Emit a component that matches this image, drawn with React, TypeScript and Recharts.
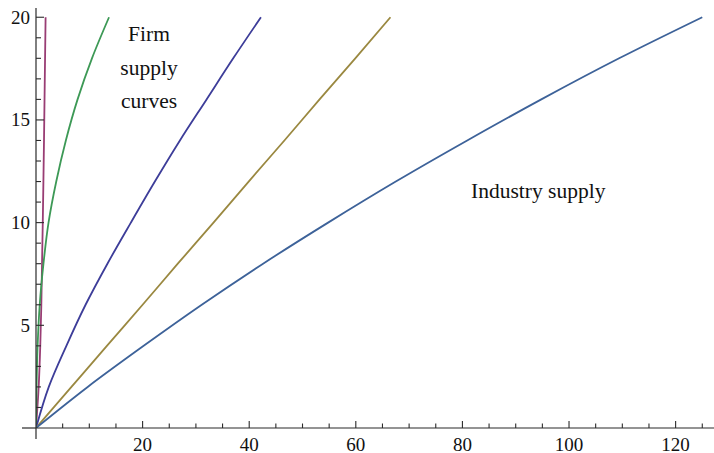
import React from "react";
import { Line, LineChart, XAxis, YAxis } from "recharts";

// price levels (vertical axis) and the quantity each curve supplies at them
const prices = [0, 2, 4, 6, 8, 10, 12, 14, 16, 18, 20];
const firmMagenta = [0, 0.5, 0.8, 1.0, 1.13, 1.27, 1.39, 1.5, 1.6, 1.7, 1.8];
const firmGreen = [0, 0.1, 0.3, 0.7, 1.4, 2.35, 3.8, 5.6, 7.8, 10.5, 13.7];
const firmIndigo = [0, 2.4, 5.7, 9.3, 13.4, 17.8, 22.3, 27, 32, 37, 42.2];
const firmGold = [0, 6.65, 13.3, 20, 26.6, 33.3, 39.9, 46.6, 53.2, 59.9, 66.5];
const industrySupply = [0, 9.7, 20.2, 31.1, 42.6, 54.8, 67.5, 80.9, 94.8, 109.4, 125];

const xTicks = [0, 5, 10, 15, 20, 25, 30, 35, 40, 45, 50, 55, 60, 65, 70, 75, 80, 85, 90, 95, 100, 105, 110, 115, 120, 125];
const yTicks = [0, 1, 2, 3, 4, 5, 6, 7, 8, 9, 10, 11, 12, 13, 14, 15, 16, 17, 18, 19, 20];

const firmLabel = ["Firm", "supply", "curves"];
const industryLabel = "Industry supply";

const series = [
  { name: "firm1", q: firmMagenta, color: "#993d74" },
  { name: "firm2", q: firmGreen, color: "#3d9956" },
  { name: "firm3", q: firmIndigo, color: "#3d3d99" },
  { name: "firm4", q: firmGold, color: "#9a8840" },
  { name: "industry", q: industrySupply, color: "#3d6299" },
];

const toPoints = (q: number[]) => q.map((value, i) => ({ q: value, p: prices[i] }));

const FONT = "'Liberation Serif', 'DejaVu Serif', serif";
const AXIS = "#2b2b2b";

const XTick = (props: any) => {
  const { x, y, payload } = props;
  const v = payload.value as number;
  if (v === 0) {
    return <line x1={x - 14} y1={y} x2={x} y2={y} stroke={AXIS} strokeWidth={1.2} />;
  }
  const major = v % 20 === 0;
  return (
    <g>
      <line x1={x} y1={y} x2={x} y2={y - (major ? 7 : 4.5)} stroke={AXIS} strokeWidth={1.1} />
      {major && (
        <text x={x} y={y + 22.5} textAnchor="middle" fontFamily={FONT} fontSize={19} fill="#111">
          {v}
        </text>
      )}
    </g>
  );
};

const YTick = (props: any) => {
  const { x, y, payload } = props;
  const v = payload.value as number;
  if (v === 0) {
    return <line x1={x} y1={y} x2={x} y2={y + 11} stroke={AXIS} strokeWidth={1.2} />;
  }
  const major = v % 5 === 0;
  return (
    <g>
      <line x1={x} y1={y} x2={x + (major ? 8 : 5)} y2={y} stroke={AXIS} strokeWidth={1.1} />
      {major && (
        <text x={x - 6} y={y + 6.5} textAnchor="end" fontFamily={FONT} fontSize={19} fill="#111">
          {v}
        </text>
      )}
    </g>
  );
};

export default function App() {
  return (
    <div style={{ position: "absolute", left: 0, top: 0, width: 714, height: 453, background: "#fff" }}>
      <LineChart width={714} height={453} margin={{ top: 8, right: 0, bottom: 0, left: 0 }}>
        <XAxis
          type="number"
          dataKey="q"
          domain={[0, 127.2]}
          ticks={xTicks}
          interval={0}
          height={25}
          tickSize={0}
          tickMargin={0}
          tickLine={false}
          axisLine={{ stroke: AXIS, strokeWidth: 1.2 }}
          tick={<XTick />}
          allowDataOverflow
        />
        <YAxis
          type="number"
          dataKey="p"
          domain={[0, 20.45]}
          ticks={yTicks}
          interval={0}
          width={36}
          tickSize={0}
          tickMargin={0}
          tickLine={false}
          axisLine={{ stroke: AXIS, strokeWidth: 1.2 }}
          tick={<YTick />}
          allowDataOverflow
        />
        {/* curves are smooth in quantity as a function of price */}
        {series.map((s) => (
          <Line
            key={s.name}
            data={toPoints(s.q)}
            dataKey="p"
            type="monotoneY"
            stroke={s.color}
            strokeWidth={1.8}
            dot={false}
            activeDot={false}
            isAnimationActive={false}
          />
        ))}
        <text fontFamily={FONT} fontSize={21.5} fill="#111" textAnchor="middle">
          {firmLabel.map((word, i) => (
            <tspan key={word} x={149} y={41 + i * 33.5}>
              {word}
            </tspan>
          ))}
        </text>
        <text x={471} y={198} fontFamily={FONT} fontSize={21.5} fill="#111">
          {industryLabel}
        </text>
      </LineChart>
    </div>
  );
}
